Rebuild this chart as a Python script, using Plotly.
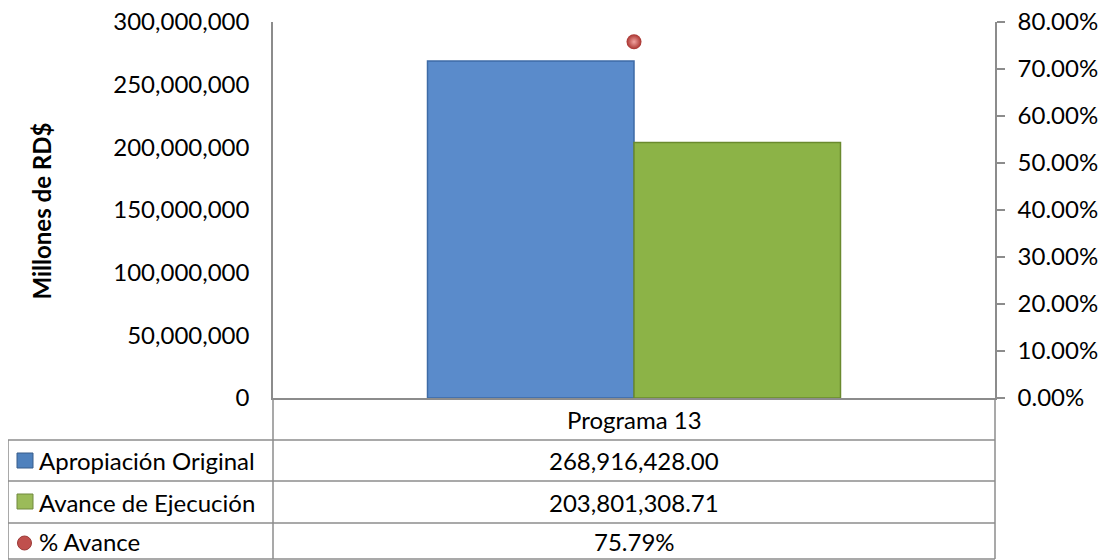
import plotly.graph_objects as go

# Chart data
categories = ["Programa 13"]
series_names = ["Apropiación Original", "Avance de Ejecución", "% Avance"]
apropiacion = [268916428.00]
avance_ejecucion = [203801308.71]
pct_avance = [0.7579]

FONT = "Lato"
GRID = "#8C8C8C"
FS = 24

fig = go.Figure()

fig.add_trace(
    go.Bar(
        x=categories,
        y=apropiacion,
        name=series_names[0],
        marker=dict(color="#5A8BCB", line=dict(color="#3E6BA6", width=1.5)),
    )
)
fig.add_trace(
    go.Bar(
        x=categories,
        y=avance_ejecucion,
        name=series_names[1],
        marker=dict(color="#8CB347", line=dict(color="#6A8A2E", width=1.5)),
    )
)
fig.add_trace(
    go.Scatter(
        x=categories,
        y=pct_avance,
        name=series_names[2],
        mode="markers",
        yaxis="y2",
        marker=dict(
            size=15,
            color="#A8322E",
            gradient=dict(type="radial", color="#F2A3A0"),
            line=dict(width=0),
        ),
    )
)


# Table below the plot, drawn in paper coordinates
# (helpers map screen pixels of the picture to paper fractions)
def py(pix):
    return (398 - pix) / 376


def px(pix):
    return (pix - 273) / 722


row_lines = [440, 481, 523, 559]
shapes = []
for r in row_lines:
    shapes.append(dict(type="line", xref="paper", yref="paper",
                       x0=px(8), x1=1, y0=py(r), y1=py(r),
                       line=dict(color=GRID, width=1.5)))
# vertical borders
shapes.append(dict(type="line", xref="paper", yref="paper", x0=px(8), x1=px(8),
                   y0=py(440), y1=py(559), line=dict(color=GRID, width=1.5)))
shapes.append(dict(type="line", xref="paper", yref="paper", x0=0, x1=0,
                   y0=0, y1=py(559), line=dict(color=GRID, width=1.5)))
shapes.append(dict(type="line", xref="paper", yref="paper", x0=1, x1=1,
                   y0=0, y1=py(559), line=dict(color=GRID, width=1.5)))

# legend keys in table
shapes.append(dict(type="rect", xref="paper", yref="paper", x0=px(17), x1=px(33),
                   y0=py(453), y1=py(468), fillcolor="#4F81BD",
                   line=dict(color="#385D8A", width=1)))
shapes.append(dict(type="rect", xref="paper", yref="paper", x0=px(17), x1=px(33),
                   y0=py(494), y1=py(509), fillcolor="#9BBB59",
                   line=dict(color="#71893F", width=1)))
shapes.append(dict(type="circle", xref="paper", yref="paper",
                   x0=px(17.5), x1=px(31.5), y0=py(536), y1=py(550),
                   fillcolor="#C0504D", line=dict(color="#9B3A37", width=1)))

annotations = []
row_centers = [460.5, 502, 541]
cell_values = [
    f"{apropiacion[0]:,.2f}",
    f"{avance_ejecucion[0]:,.2f}",
    f"{pct_avance[0]:.2%}",
]
annotations.append(dict(text=categories[0], xref="paper", yref="paper", x=0.5,
                        y=py(419), xanchor="center", yanchor="middle",
                        showarrow=False, font=dict(size=FS, color="#000000")))
for name, val, yc in zip(series_names, cell_values, row_centers):
    annotations.append(dict(text=name, xref="paper", yref="paper", x=px(37),
                            y=py(yc), xanchor="left", yanchor="middle",
                            showarrow=False, font=dict(size=FS, color="#000000")))
    annotations.append(dict(text=val, xref="paper", yref="paper", x=0.5,
                            y=py(yc), xanchor="center", yanchor="middle",
                            showarrow=False, font=dict(size=FS, color="#000000")))
# axis title
annotations.append(dict(text="<b>Millones de RD$</b>", xref="paper", yref="paper",
                        x=px(41), y=py(211.5), xanchor="center", yanchor="middle",
                        textangle=-90, showarrow=False,
                        font=dict(size=FS, color="#000000")))

# page body adds an 8px offset, so the figure is 8px smaller and margins shifted
fig.update_layout(
    width=1100,
    height=552,
    margin=dict(l=265, r=113, t=14, b=162),
    paper_bgcolor="#ffffff",
    plot_bgcolor="#ffffff",
    font=dict(family=FONT, size=FS, color="#000000"),
    showlegend=False,
    barmode="group",
    bargap=0.428,
    bargroupgap=0,
    xaxis=dict(
        showticklabels=False,
        showline=True,
        linecolor=GRID,
        linewidth=1.5,
        ticks="",
        showgrid=False,
        automargin=False,
        fixedrange=True,
    ),
    yaxis=dict(
        range=[0, 300000000],
        dtick=50000000,
        tickformat=",",
        showgrid=False,
        zeroline=False,
        showline=True,
        linecolor=GRID,
        linewidth=1.5,
        ticks="",
        ticklabelstandoff=17,
        ticklabeloverflow="allow",
        automargin=False,
        fixedrange=True,
    ),
    yaxis2=dict(
        overlaying="y",
        side="right",
        range=[0, 0.8],
        dtick=0.1,
        tickformat=".2%",
        showgrid=False,
        zeroline=False,
        showline=True,
        linecolor=GRID,
        linewidth=1.5,
        ticks="outside",
        ticklen=8,
        tickwidth=1.5,
        tickcolor=GRID,
        ticklabelstandoff=8,
        ticklabeloverflow="allow",
        automargin=False,
        fixedrange=True,
    ),
    shapes=shapes,
    annotations=annotations,
)

fig.write_html("out.html")
